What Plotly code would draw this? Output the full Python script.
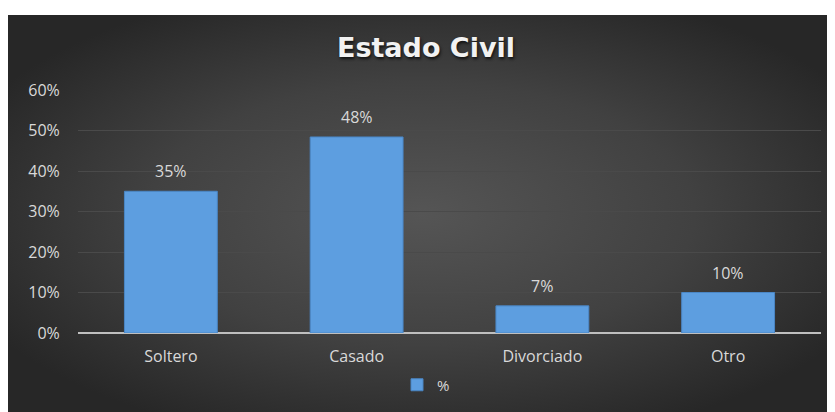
import base64
import plotly.graph_objects as go

categories = ["Soltero", "Casado", "Divorciado", "Otro"]
values = [0.35, 0.484, 0.067, 0.10]
series_name = "%"
y_ticks = [0, 0.1, 0.2, 0.3, 0.4, 0.5, 0.6]
y_tick_labels = ["0%", "10%", "20%", "30%", "40%", "50%", "60%"]
title_text = "Estado Civil"

W, H = 827, 404
ml, mr, mt, mb = 70, 14, 82, 79
pw, ph = W - ml - mr, H - mt - mb

# background panel (radial gradient like Excel dark style)
bx0, by0 = 0, 7
bw, bh = W - bx0, H - by0
svg = f'''<svg xmlns="http://www.w3.org/2000/svg" width="{bw}" height="{bh}" viewBox="0 0 {bw} {bh}" preserveAspectRatio="none">
<defs><radialGradient id="g" cx="50%" cy="50%" r="60%">
<stop offset="0%" stop-color="#555555"/><stop offset="55%" stop-color="#414141"/><stop offset="100%" stop-color="#272727"/>
</radialGradient></defs><rect width="{bw}" height="{bh}" fill="url(#g)"/></svg>'''
src = "data:image/svg+xml;base64," + base64.b64encode(svg.encode()).decode()

fig = go.Figure()
fig.add_trace(go.Bar(
    x=categories, y=values, name=series_name,
    marker=dict(color="#5d9ee0", line=dict(color="#4a86c5", width=1)),
    width=0.5, showlegend=True,
))

for c, v in zip(categories, values):
    fig.add_annotation(x=c, y=v, text=f"{round(v*100)}%", showarrow=False,
                       yanchor="bottom", yshift=7,
                       font=dict(family="Open Sans", size=16, color="#d9d9d9"))

fig.add_layout_image(dict(
    source=src, xref="paper", yref="paper",
    x=(bx0 - ml) / pw, y=(H - mb - by0) / ph,
    sizex=bw / pw, sizey=bh / ph,
    xanchor="left", yanchor="top", sizing="stretch", layer="below",
))

tickfont = dict(family="Open Sans", size=16, color="#d9d9d9")
fig.update_layout(
    width=W, height=H,
    margin=dict(l=ml, r=mr, t=mt, b=mb, autoexpand=False),
    paper_bgcolor="white", plot_bgcolor="rgba(0,0,0,0)",
    title=dict(text=f"<b>{title_text}</b>", x=418 / W, xanchor="center",
               y=1 - 40 / H, yanchor="middle", yref="container",
               font=dict(family="DejaVu Sans", size=27, color="#f2f2f2",
                         shadow="1px 2px 3px #111111")),
    xaxis=dict(showgrid=False, showline=False, ticks="outside", ticklen=9,
               tickcolor="rgba(0,0,0,0)", tickfont=tickfont),
    yaxis=dict(range=[0, 0.6], tickvals=y_ticks, ticktext=y_tick_labels,
               showgrid=True, gridcolor="#4a4a4a", gridwidth=1,
               zeroline=True, zerolinecolor="#bfbfbf", zerolinewidth=2,
               showline=False, ticks="outside", ticklen=14,
               tickcolor="rgba(0,0,0,0)", tickfont=tickfont),
    legend=dict(orientation="h", x=(418 - ml) / pw, xanchor="center",
                y=(H - mb - 377) / ph, yanchor="middle", bgcolor="rgba(0,0,0,0)",
                font=dict(family="Open Sans", size=15, color="#d9d9d9")),
    bargap=0.5,
)
fig.write_html("out.html")
